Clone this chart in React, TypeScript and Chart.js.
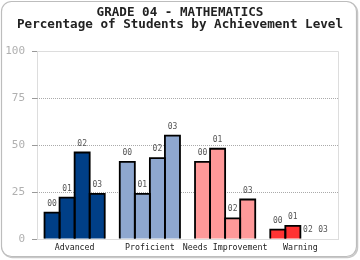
import React, { useEffect, useRef } from "react";
import { Chart, registerables } from "chart.js";

Chart.register(...registerables);

const titleLines = ["GRADE 04 - MATHEMATICS", "Percentage of Students by Achievement Level"];
const categories = ["Advanced", "Proficient", "Needs Improvement", "Warning"];
const seriesLabels = ["00", "01", "02", "03"];
const values00 = [14, 41, 41, 5];
const values01 = [22, 24, 48, 7];
const values02 = [46, 43, 11, 0];
const values03 = [24, 55, 21, 0];
const categoryColors = ["#003f87", "#8ea7cf", "#ff9999", "#ff3333"];
const yTicks = [0, 25, 50, 75, 100];

const MONO = '"DejaVu Sans Mono", monospace';

const decorPlugin = {
  id: "decor",
  beforeDraw(chart: any) {
    const { ctx } = chart;
    ctx.save();
    ctx.fillStyle = "#ffffff";
    ctx.fillRect(0, 0, chart.width, chart.height);
    ctx.beginPath();
    ctx.roundRect(2.5, 2.5, 355, 255, 10);
    ctx.strokeStyle = "#c8c8c8";
    ctx.lineWidth = 1.5;
    ctx.stroke();
    ctx.beginPath();
    ctx.roundRect(1.5, 1.5, 355, 255, 10);
    ctx.fillStyle = "#ffffff";
    ctx.fill();
    ctx.strokeStyle = "#bdbdbd";
    ctx.lineWidth = 1.2;
    ctx.stroke();
    ctx.fillStyle = "#222";
    ctx.font = `bold 12.6px ${MONO}`;
    ctx.textAlign = "center";
    ctx.textBaseline = "middle";
    ctx.fillText(titleLines[0], 180, 13);
    ctx.fillText(titleLines[1], 180, 25);
    ctx.restore();
  },
  beforeDatasetsDraw(chart: any) {
    const { ctx, chartArea } = chart;
    const y = chart.scales.y;
    ctx.save();
    ctx.strokeStyle = "#dddddd";
    ctx.lineWidth = 1;
    ctx.beginPath();
    ctx.moveTo(chartArea.left, chartArea.top + 0.5);
    ctx.lineTo(chartArea.right + 0.5, chartArea.top + 0.5);
    ctx.lineTo(chartArea.right + 0.5, chartArea.bottom);
    ctx.stroke();
    ctx.strokeStyle = "#aaaaaa";
    ctx.setLineDash([1, 1]);
    yTicks.forEach((v) => {
      if (v === 0 || v === 100) return;
      const py = Math.round(y.getPixelForValue(v)) + 0.5;
      ctx.beginPath();
      ctx.moveTo(chartArea.left, py);
      ctx.lineTo(chartArea.right, py);
      ctx.stroke();
    });
    ctx.restore();
  },
  afterDatasetsDraw(chart: any) {
    const { ctx } = chart;
    ctx.save();
    // outlines (centered on edges, shared between adjacent bars)
    ctx.strokeStyle = "#000";
    ctx.lineWidth = 1.8;
    ctx.lineJoin = "miter";
    chart.data.datasets.forEach((ds: any, i: number) => {
      const meta = chart.getDatasetMeta(i);
      meta.data.forEach((bar: any) => {
        if (Math.abs(bar.base - bar.y) < 0.5) return;
        const l = bar.x - bar.width / 2;
        const r = bar.x + bar.width / 2;
        ctx.beginPath();
        ctx.moveTo(l, bar.base);
        ctx.lineTo(l, bar.y);
        ctx.lineTo(r, bar.y);
        ctx.lineTo(r, bar.base);
        ctx.stroke();
      });
    });
    ctx.font = `8px ${MONO}`;
    ctx.fillStyle = "#555";
    ctx.textAlign = "center";
    ctx.textBaseline = "middle";
    chart.data.datasets.forEach((ds: any, i: number) => {
      const meta = chart.getDatasetMeta(i);
      meta.data.forEach((bar: any) => {
        ctx.fillText(ds.label, bar.x, bar.y - 9);
      });
    });
    ctx.restore();
  },
};

export default function App() {
  const ref = useRef<HTMLCanvasElement>(null);
  useEffect(() => {
    document.body.style.margin = "0";
    const seriesValues = [values00, values01, values02, values03];
    const chart = new Chart(ref.current!, {
      type: "bar",
      data: {
        labels: categories,
        datasets: seriesLabels.map((lab, i) => ({
          label: lab,
          data: seriesValues[i],
          backgroundColor: categoryColors,
          borderWidth: 0,
          inflateAmount: 0,
          categoryPercentage: 0.8,
          barPercentage: 1,
        })),
      },
      options: {
        animation: false,
        responsive: false,
        maintainAspectRatio: false,
        datasets: { bar: { categoryPercentage: 0.8, barPercentage: 1 } },
        layout: { padding: { left: 0, right: 22, top: 51, bottom: 0 } },
        plugins: { legend: { display: false }, title: { display: false }, tooltip: { enabled: false } },
        scales: {
          x: {
            grid: { display: false, drawTicks: false },
            border: { display: true, color: "#dddddd", width: 1 },
            ticks: {
              autoSkip: false,
              maxRotation: 0,
              padding: 4,
              color: "#222",
              font: { family: MONO, size: 8.3 },
            },
            afterFit: (s: any) => {
              s.height = 21;
            },
          },
          y: {
            min: 0,
            max: 100,
            afterBuildTicks: (s: any) => {
              s.ticks = yTicks.map((v) => ({ value: v }));
            },
            grid: {
              display: true,
              drawOnChartArea: false,
              drawTicks: true,
              tickLength: 5,
              tickColor: "#999",
            },
            border: { display: true, color: "#dddddd", width: 1 },
            ticks: {
              padding: 7,
              color: "#b0b0b0",
              font: { family: MONO, size: 11 },
            },
            afterFit: (s: any) => {
              s.width = 37;
            },
          },
        },
      },
      plugins: [decorPlugin],
    });
    return () => chart.destroy();
  }, []);
  return <canvas ref={ref} width={360} height={260} style={{ display: "block" }} />;
}
